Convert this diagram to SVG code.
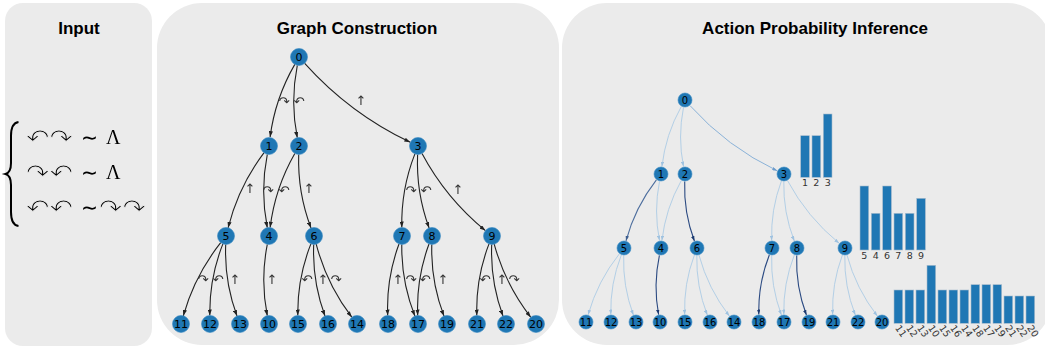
<svg xmlns="http://www.w3.org/2000/svg" width="1045" height="349" viewBox="0 0 1045 349">
<defs>
<style>
.panel{fill:#ebebeb}
.title{font-family:"Liberation Sans",Arial,sans-serif;font-weight:bold;font-size:17px;fill:#000;text-anchor:middle}
.n1 circle{fill:#1f77b4;stroke:#3a8cc4;stroke-width:0.6}
.n1 text{font-family:"DejaVu Sans",sans-serif;font-size:11px;fill:#000;text-anchor:middle}
.n2 circle{fill:#1f77b4;stroke:#3a8cc4;stroke-width:0.6}
.n2 text{font-family:"DejaVu Sans",sans-serif;font-size:10px;fill:#000;text-anchor:middle}
.e1{fill:none;stroke:#222;stroke-width:1.1;marker-end:url(#ah)}
.el{fill:none;stroke:#b3cfe6;stroke-width:1;marker-end:url(#ahl)}
.em{fill:none;stroke:#8ab2d8;stroke-width:1;marker-end:url(#ahm)}
.ed{fill:none;stroke:#2b4a82;stroke-width:1.1;marker-end:url(#ahd)}
.ed2{fill:none;stroke:#4d6e9e;stroke-width:1.1;marker-end:url(#ahd2)}
.lab{font-family:"DejaVu Sans",sans-serif;font-size:13px;fill:#333;text-anchor:middle}
.bar{fill:#1f77b4;stroke:#a9bccd;stroke-width:0.6}
.blab{font-family:"DejaVu Sans",sans-serif;font-size:9.5px;fill:#333;text-anchor:middle}
.arr{font-family:"DejaVu Sans",sans-serif;font-size:24px;fill:#000;stroke:#ebebeb;stroke-width:1}
.mth{font-family:"Liberation Serif","DejaVu Serif",serif;font-size:20px;fill:#000}
.tld{font-family:"DejaVu Sans",sans-serif;font-size:22px;fill:#000}
</style>
<filter id="gs" x="-5%" y="-5%" width="110%" height="110%"><feOffset dx="0" dy="0"/></filter>
<marker id="ah" viewBox="0 0 10 7" refX="10" refY="3.5" markerWidth="6" markerHeight="4.2" markerUnits="userSpaceOnUse" orient="auto"><path d="M0,0 L10,3.5 L0,7 z" fill="#222"/></marker>
<marker id="ahl" viewBox="0 0 10 7" refX="10" refY="3.5" markerWidth="5" markerHeight="3.5" markerUnits="userSpaceOnUse" orient="auto"><path d="M0,0 L10,3.5 L0,7 z" fill="#9fc2e0"/></marker>
<marker id="ahm" viewBox="0 0 10 7" refX="10" refY="3.5" markerWidth="5" markerHeight="3.5" markerUnits="userSpaceOnUse" orient="auto"><path d="M0,0 L10,3.5 L0,7 z" fill="#6d9ccc"/></marker>
<marker id="ahd" viewBox="0 0 10 7" refX="10" refY="3.5" markerWidth="5" markerHeight="3.5" markerUnits="userSpaceOnUse" orient="auto"><path d="M0,0 L10,3.5 L0,7 z" fill="#1c3a70"/></marker>
<marker id="ahd2" viewBox="0 0 10 7" refX="10" refY="3.5" markerWidth="5" markerHeight="3.5" markerUnits="userSpaceOnUse" orient="auto"><path d="M0,0 L10,3.5 L0,7 z" fill="#3d5e90"/></marker>
</defs>
<rect width="1045" height="349" fill="#fff"/>
<g id="panels">
<rect class="panel" x="5" y="3" width="147" height="343" rx="18"/>
<rect class="panel" x="157" y="3" width="402" height="342" rx="45"/>
<rect class="panel" x="562" y="3" width="490" height="342" rx="45"/>
</g>
<text class="title" x="79" y="34">Input</text>
<text class="title" x="357" y="34">Graph Construction</text>
<text class="title" x="815" y="34">Action Probability Inference</text>

<g id="input" filter="url(#gs)">
<path d="M18.5,122 Q11,123 11,136 L11,163 Q11,172.5 5.5,174 Q11,175.5 11,185 L11,212 Q11,225 18.5,226" fill="none" stroke="#000" stroke-width="2"/>
<text class="arr" x="26" y="146" textLength="47" lengthAdjust="spacingAndGlyphs">↶↷</text>
<text class="tld" x="81" y="145" textLength="17" lengthAdjust="spacingAndGlyphs">∼</text>
<text class="mth" x="106" y="144">Λ</text>
<text class="arr" x="26" y="181" textLength="47" lengthAdjust="spacingAndGlyphs">↷↶</text>
<text class="tld" x="81" y="180" textLength="17" lengthAdjust="spacingAndGlyphs">∼</text>
<text class="mth" x="106" y="179">Λ</text>
<text class="arr" x="26" y="216" textLength="47" lengthAdjust="spacingAndGlyphs">↶↶</text>
<text class="tld" x="81" y="215" textLength="17" lengthAdjust="spacingAndGlyphs">∼</text>
<text class="arr" x="99" y="216" textLength="47" lengthAdjust="spacingAndGlyphs">↷↷</text>
</g>

<g id="gc-edges">
<path class="e1" d="M294.8,64.4 Q275.1,98.5 270.1,137.1"/>
<path class="e1" d="M297.3,65.3 Q290.1,101.5 297.3,137.7"/>
<path class="e1" d="M304.7,63.3 Q349.6,113.4 410.3,142.3"/>
<path class="e1" d="M263.9,152.8 Q238.5,186.7 228.1,227.8"/>
<path class="e1" d="M267.3,154.3 Q260,191 267.3,227.7"/>
<path class="e1" d="M294.8,153.4 Q275,188 270.1,227.6"/>
<path class="e1" d="M298.7,154.5 Q297.5,192.5 311,228"/>
<path class="e1" d="M414.9,153.9 Q401,189.4 401.8,227.5"/>
<path class="e1" d="M417.6,154.5 Q416,192.4 429.1,228"/>
<path class="e1" d="M422,153.5 Q446,198.4 485.4,230.6"/>
<path class="e1" d="M220.7,242.7 Q194.7,275.5 183.3,315.8"/>
<path class="e1" d="M222.9,243.9 Q209.2,278.4 209.8,315.5"/>
<path class="e1" d="M225.7,244.5 Q224.2,281.4 237,316"/>
<path class="e1" d="M267.3,244.3 Q260.2,280 267.3,315.7"/>
<path class="e1" d="M310.9,243.9 Q297.2,278.4 297.8,315.5"/>
<path class="e1" d="M313.7,244.5 Q312.2,281.4 325,316"/>
<path class="e1" d="M316.2,244.2 Q326.7,284.3 351.8,317.2"/>
<path class="e1" d="M399,244 Q386.2,278.6 387.7,315.5"/>
<path class="e1" d="M401.8,244.5 Q401.2,281.6 414.9,316.1"/>
<path class="e1" d="M429,244 Q416.2,278.6 417.7,315.5"/>
<path class="e1" d="M431.8,244.5 Q430.7,281.5 444,316.1"/>
<path class="e1" d="M489,243.9 Q475.7,278.5 476.8,315.5"/>
<path class="e1" d="M491.7,244.5 Q490.2,281.4 503,316"/>
<path class="e1" d="M494.2,244.2 Q505.2,284.4 530.8,317.3"/>
</g>
<g id="gc-labels" filter="url(#gs)">
<text class="lab" x="284" y="106">↷</text>
<text class="lab" x="299" y="106">↶</text>
<text class="lab" x="361" y="105">↑</text>
<text class="lab" x="250" y="193">↑</text>
<text class="lab" x="268" y="195">↷</text>
<text class="lab" x="284" y="195">↶</text>
<text class="lab" x="309" y="193">↑</text>
<text class="lab" x="411" y="195">↷</text>
<text class="lab" x="426" y="195">↶</text>
<text class="lab" x="458" y="194">↑</text>
<text class="lab" x="203" y="284">↷</text>
<text class="lab" x="218" y="284">↶</text>
<text class="lab" x="235" y="284">↑</text>
<text class="lab" x="272" y="284">↑</text>
<text class="lab" x="307" y="284">↶</text>
<text class="lab" x="323" y="284">↑</text>
<text class="lab" x="336" y="284">↷</text>
<text class="lab" x="398" y="284">↑</text>
<text class="lab" x="411" y="284">↷</text>
<text class="lab" x="425" y="284">↶</text>
<text class="lab" x="443" y="284">↑</text>
<text class="lab" x="485" y="284">↶</text>
<text class="lab" x="502" y="284">↑</text>
<text class="lab" x="514" y="284">↷</text>
</g>
<g class="n1">
<g id="g0"><circle cx="299" cy="57" r="8.5"/><text x="299" y="61">0</text></g>
<g id="g1"><circle cx="269" cy="146" r="8.5"/><text x="269" y="150">1</text></g>
<g id="g2"><circle cx="299" cy="146" r="8.5"/><text x="299" y="150">2</text></g>
<g id="g3"><circle cx="418" cy="146" r="8.5"/><text x="418" y="150">3</text></g>
<g id="g5"><circle cx="226" cy="236" r="8.5"/><text x="226" y="240">5</text></g>
<g id="g4"><circle cx="269" cy="236" r="8.5"/><text x="269" y="240">4</text></g>
<g id="g6"><circle cx="314" cy="236" r="8.5"/><text x="314" y="240">6</text></g>
<g id="g7"><circle cx="402" cy="236" r="8.5"/><text x="402" y="240">7</text></g>
<g id="g8"><circle cx="432" cy="236" r="8.5"/><text x="432" y="240">8</text></g>
<g id="g9"><circle cx="492" cy="236" r="8.5"/><text x="492" y="240">9</text></g>
<g id="g11"><circle cx="181" cy="324" r="8.5"/><text x="181" y="328">11</text></g>
<g id="g12"><circle cx="210" cy="324" r="8.5"/><text x="210" y="328">12</text></g>
<g id="g13"><circle cx="240" cy="324" r="8.5"/><text x="240" y="328">13</text></g>
<g id="g10"><circle cx="269" cy="324" r="8.5"/><text x="269" y="328">10</text></g>
<g id="g15"><circle cx="298" cy="324" r="8.5"/><text x="298" y="328">15</text></g>
<g id="g16"><circle cx="328" cy="324" r="8.5"/><text x="328" y="328">16</text></g>
<g id="g14"><circle cx="357" cy="324" r="8.5"/><text x="357" y="328">14</text></g>
<g id="g18"><circle cx="388" cy="324" r="8.5"/><text x="388" y="328">18</text></g>
<g id="g17"><circle cx="418" cy="324" r="8.5"/><text x="418" y="328">17</text></g>
<g id="g19"><circle cx="447" cy="324" r="8.5"/><text x="447" y="328">19</text></g>
<g id="g21"><circle cx="477" cy="324" r="8.5"/><text x="477" y="328">21</text></g>
<g id="g22"><circle cx="506" cy="324" r="8.5"/><text x="506" y="328">22</text></g>
<g id="g20"><circle cx="536" cy="324" r="8.5"/><text x="536" y="328">20</text></g>
</g>

<g id="ap-edges">
<path class="el" d="M681.3,106.5 Q665.6,134.6 661.9,166.6"/>
<path class="el" d="M683.5,107.4 Q677.6,137 683.5,166.6"/>
<path class="em" d="M690,105.6 Q727.1,146.9 777.2,170.8"/>
<path class="ed2" d="M656.4,179.9 Q635.1,207.3 626,240.8"/>
<path class="el" d="M659.5,181.4 Q653.6,211 659.5,240.6"/>
<path class="el" d="M681.3,180.5 Q665.6,208.6 661.9,240.6"/>
<path class="ed" d="M684.7,181.5 Q683.6,212.2 694.4,241"/>
<path class="el" d="M781.4,181 Q770.6,209.8 771.7,240.5"/>
<path class="el" d="M783.8,181.5 Q783.1,212.3 794.3,241"/>
<path class="el" d="M787.5,180.6 Q807.1,217.1 839.2,243.3"/>
<path class="el" d="M619.3,253.9 Q597.6,281.2 588.1,314.8"/>
<path class="el" d="M621.3,255 Q610.1,283.7 610.8,314.5"/>
<path class="el" d="M623.7,255.5 Q622.6,286.2 633.4,315"/>
<path class="ed" d="M659.4,255.3 Q653.1,284.9 658.6,314.6"/>
<path class="el" d="M694.4,255 Q683.6,283.8 684.7,314.5"/>
<path class="el" d="M696.8,255.5 Q696.1,286.3 707.3,315"/>
<path class="el" d="M699,255.2 Q708.1,288.7 729.4,316.1"/>
<path class="ed" d="M769.3,255 Q758.1,283.7 758.8,314.5"/>
<path class="el" d="M771.7,255.5 Q770.6,286.2 781.4,315"/>
<path class="el" d="M794.3,255 Q783.1,283.7 783.8,314.5"/>
<path class="ed" d="M796.7,255.5 Q795.6,286.2 806.4,315"/>
<path class="el" d="M842.4,255 Q831.6,283.8 832.7,314.5"/>
<path class="el" d="M844.8,255.5 Q844.1,286.3 855.3,315"/>
<path class="el" d="M847,255.2 Q856.1,288.7 877.4,316.1"/>
</g>
<g class="n2">
<g id="a0"><circle cx="685" cy="100" r="7"/><text x="685" y="103.6">0</text></g>
<g id="a1"><circle cx="661" cy="174" r="7"/><text x="661" y="177.6">1</text></g>
<g id="a2"><circle cx="685" cy="174" r="7"/><text x="685" y="177.6">2</text></g>
<g id="a3"><circle cx="784" cy="174" r="7"/><text x="784" y="177.6">3</text></g>
<g id="a5"><circle cx="624" cy="248" r="7"/><text x="624" y="251.6">5</text></g>
<g id="a4"><circle cx="661" cy="248" r="7"/><text x="661" y="251.6">4</text></g>
<g id="a6"><circle cx="697" cy="248" r="7"/><text x="697" y="251.6">6</text></g>
<g id="a7"><circle cx="772" cy="248" r="7"/><text x="772" y="251.6">7</text></g>
<g id="a8"><circle cx="797" cy="248" r="7"/><text x="797" y="251.6">8</text></g>
<g id="a9"><circle cx="845" cy="248" r="7"/><text x="845" y="251.6">9</text></g>
<g id="a11"><circle cx="586" cy="322" r="7"/><text x="586" y="325.6">11</text></g>
<g id="a12"><circle cx="611" cy="322" r="7"/><text x="611" y="325.6">12</text></g>
<g id="a13"><circle cx="636" cy="322" r="7"/><text x="636" y="325.6">13</text></g>
<g id="a10"><circle cx="660" cy="322" r="7"/><text x="660" y="325.6">10</text></g>
<g id="a15"><circle cx="685" cy="322" r="7"/><text x="685" y="325.6">15</text></g>
<g id="a16"><circle cx="710" cy="322" r="7"/><text x="710" y="325.6">16</text></g>
<g id="a14"><circle cx="734" cy="322" r="7"/><text x="734" y="325.6">14</text></g>
<g id="a18"><circle cx="759" cy="322" r="7"/><text x="759" y="325.6">18</text></g>
<g id="a17"><circle cx="784" cy="322" r="7"/><text x="784" y="325.6">17</text></g>
<g id="a19"><circle cx="809" cy="322" r="7"/><text x="809" y="325.6">19</text></g>
<g id="a21"><circle cx="833" cy="322" r="7"/><text x="833" y="325.6">21</text></g>
<g id="a22"><circle cx="858" cy="322" r="7"/><text x="858" y="325.6">22</text></g>
<g id="a20"><circle cx="882" cy="322" r="7"/><text x="882" y="325.6">20</text></g>
</g>

<g id="chart1">
<rect class="bar" x="800.7" y="135.7" width="8.7" height="41.6"/>
<rect class="bar" x="812" y="135.7" width="8.7" height="41.6"/>
<rect class="bar" x="823.3" y="114" width="8.7" height="63.3"/>
<text class="blab" x="805" y="185.5">1</text>
<text class="blab" x="816.3" y="185.5">2</text>
<text class="blab" x="827.7" y="185.5">3</text>
</g>
<g id="chart2">
<rect class="bar" x="860" y="186" width="8.7" height="64"/>
<rect class="bar" x="871.3" y="213.3" width="8.7" height="36.7"/>
<rect class="bar" x="882.7" y="186" width="8.7" height="64"/>
<rect class="bar" x="894" y="213.3" width="8.7" height="36.7"/>
<rect class="bar" x="905.3" y="213.3" width="8.7" height="36.7"/>
<rect class="bar" x="916.7" y="198.3" width="8.7" height="51.7"/>
<text class="blab" x="864.3" y="258.5">5</text>
<text class="blab" x="875.7" y="258.5">4</text>
<text class="blab" x="887" y="258.5">6</text>
<text class="blab" x="898.3" y="258.5">7</text>
<text class="blab" x="909.7" y="258.5">8</text>
<text class="blab" x="921" y="258.5">9</text>
</g>
<g id="chart3">
<rect class="bar" x="894" y="290" width="8.7" height="33.3"/>
<rect class="bar" x="905" y="290" width="8.7" height="33.3"/>
<rect class="bar" x="916" y="290" width="8.7" height="33.3"/>
<rect class="bar" x="927" y="265.3" width="8.7" height="58"/>
<rect class="bar" x="938" y="290" width="8.7" height="33.3"/>
<rect class="bar" x="949" y="290" width="8.7" height="33.3"/>
<rect class="bar" x="960" y="290" width="8.7" height="33.3"/>
<rect class="bar" x="971" y="284.7" width="8.7" height="38.6"/>
<rect class="bar" x="982" y="284.7" width="8.7" height="38.6"/>
<rect class="bar" x="993" y="284.7" width="8.7" height="38.6"/>
<rect class="bar" x="1004" y="296" width="8.7" height="27.3"/>
<rect class="bar" x="1015" y="296" width="8.7" height="27.3"/>
<rect class="bar" x="1026" y="296" width="8.7" height="27.3"/>
<text class="blab" transform="translate(898.3,333) rotate(55)">11</text>
<text class="blab" transform="translate(909.3,333) rotate(55)">12</text>
<text class="blab" transform="translate(920.3,333) rotate(55)">13</text>
<text class="blab" transform="translate(931.3,333) rotate(55)">10</text>
<text class="blab" transform="translate(942.3,333) rotate(55)">15</text>
<text class="blab" transform="translate(953.3,333) rotate(55)">16</text>
<text class="blab" transform="translate(964.3,333) rotate(55)">14</text>
<text class="blab" transform="translate(975.3,333) rotate(55)">18</text>
<text class="blab" transform="translate(986.3,333) rotate(55)">17</text>
<text class="blab" transform="translate(997.3,333) rotate(55)">19</text>
<text class="blab" transform="translate(1008.3,333) rotate(55)">21</text>
<text class="blab" transform="translate(1019.3,333) rotate(55)">22</text>
<text class="blab" transform="translate(1030.3,333) rotate(55)">20</text>
</g>
</svg>
